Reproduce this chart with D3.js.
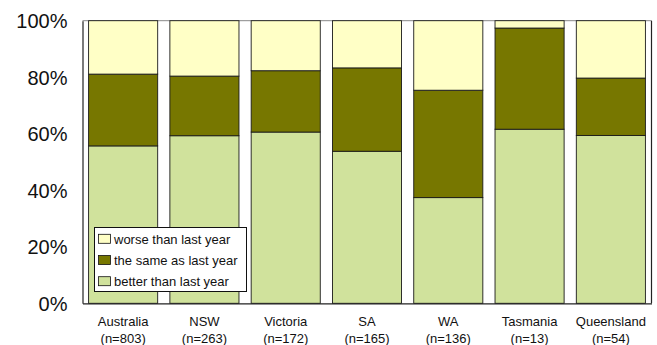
<!DOCTYPE html>
<html>
<head>
<meta charset="utf-8">
<script src="https://cdn.jsdelivr.net/npm/d3@7"></script>
<style>
  html, body { margin: 0; padding: 0; background: #fff; }
  svg { display: block; font-family: "Liberation Sans", Arial, Helvetica, sans-serif; }
</style>
</head>
<body>
<svg id="chart" width="657" height="345"></svg>
<script>
// Regions surveyed and their sample sizes
const regions = ["Australia", "NSW", "Victoria", "SA", "WA", "Tasmania", "Queensland"];
const sampleSizes = ["n=803", "n=263", "n=172", "n=165", "n=136", "n=13", "n=54"];

// Share of responses (%) per region
const better = [55.7, 59.3, 60.6, 53.8, 37.4, 61.6, 59.4];
const same   = [25.4, 21.1, 21.7, 29.5, 38.0, 35.8, 20.3];
const worse  = [18.9, 19.6, 17.7, 16.7, 24.6, 2.6, 20.3];

const seriesNames = ["better than last year", "the same as last year", "worse than last year"];
const seriesColors = ["#d0e29c", "#777700", "#ffffc6"];
const yTicks = [0, 20, 40, 60, 80, 100];

const rows = regions.map((r, i) => ({
  region: r,
  "better than last year": better[i],
  "the same as last year": same[i],
  "worse than last year": worse[i]
}));

const svg = d3.select("#chart");
const margin = { left: 82.5, right: 5.5, top: 20.7, bottom: 41.7 };
const W = 657, H = 345;

const x = d3.scaleBand()
  .domain(regions)
  .range([margin.left, W - margin.right])
  .paddingInner(0.15)
  .paddingOuter(0.075);

const y = d3.scaleLinear()
  .domain([0, 100])
  .range([H - margin.bottom, margin.top]);

const stack = d3.stack().keys(seriesNames);
const stacked = stack(rows);

// top and right frame of the plot area
svg.append("line")
  .attr("x1", margin.left).attr("x2", W - margin.right)
  .attr("y1", y(100)).attr("y2", y(100))
  .attr("stroke", "#888").attr("stroke-width", 1);
svg.append("line")
  .attr("x1", W - margin.right).attr("x2", W - margin.right)
  .attr("y1", y(100)).attr("y2", y(0))
  .attr("stroke", "#222").attr("stroke-width", 1.2);

// stacked bars
svg.append("g")
  .selectAll("g")
  .data(stacked)
  .join("g")
  .attr("fill", (d, i) => seriesColors[i])
  .selectAll("rect")
  .data(d => d)
  .join("rect")
  .attr("x", d => x(d.data.region))
  .attr("width", x.bandwidth())
  .attr("y", d => y(d[1]))
  .attr("height", d => y(d[0]) - y(d[1]))
  .attr("stroke", "#1a1a1a")
  .attr("stroke-width", 0.9);

// y axis
const yAxis = svg.append("g")
  .attr("transform", `translate(${margin.left},0)`)
  .call(d3.axisLeft(y).tickValues(yTicks).tickFormat(d => d + "%").tickSize(0).tickPadding(15));
yAxis.select(".domain").attr("stroke", "#222").attr("stroke-width", 1.2);
yAxis.selectAll("text")
  .attr("font-size", 20)
  .attr("fill", "#111")
  .attr("font-family", "'Liberation Sans', Arial, sans-serif")
  .attr("dy", "0.36em");

// x axis
const xAxis = svg.append("g")
  .attr("transform", `translate(0,${y(0)})`)
  .call(d3.axisBottom(x).tickSize(0).tickFormat(() => ""));
xAxis.select(".domain").attr("stroke", "#222").attr("stroke-width", 1.2);
xAxis.selectAll(".tick").each(function(d, i) {
  const t = d3.select(this).append("text")
    .attr("text-anchor", "middle")
    .attr("font-size", 13)
    .attr("fill", "#111")
    .attr("font-family", "'Liberation Sans', Arial, sans-serif");
  t.append("tspan").attr("x", 0).attr("y", 23).text(regions[i]);
  t.append("tspan").attr("x", 0).attr("y", 40).text("(" + sampleSizes[i] + ")");
});

// legend
const legend = svg.append("g").attr("transform", "translate(94.5,227.5)");
legend.append("rect")
  .attr("width", 152).attr("height", 64)
  .attr("fill", "#fff").attr("stroke", "#111").attr("stroke-width", 1);
const legendOrder = [2, 1, 0];
legendOrder.forEach((si, row) => {
  const cy = 11.8 + row * 21.2;
  legend.append("rect")
    .attr("x", 4).attr("y", cy - 5)
    .attr("width", 12).attr("height", 9)
    .attr("fill", seriesColors[si])
    .attr("stroke", "#111").attr("stroke-width", 0.8);
  legend.append("text")
    .attr("x", 19.5).attr("y", cy + 4.5)
    .attr("font-size", 13)
    .attr("fill", "#111")
    .text(seriesNames[si]);
});
</script>
</body>
</html>
